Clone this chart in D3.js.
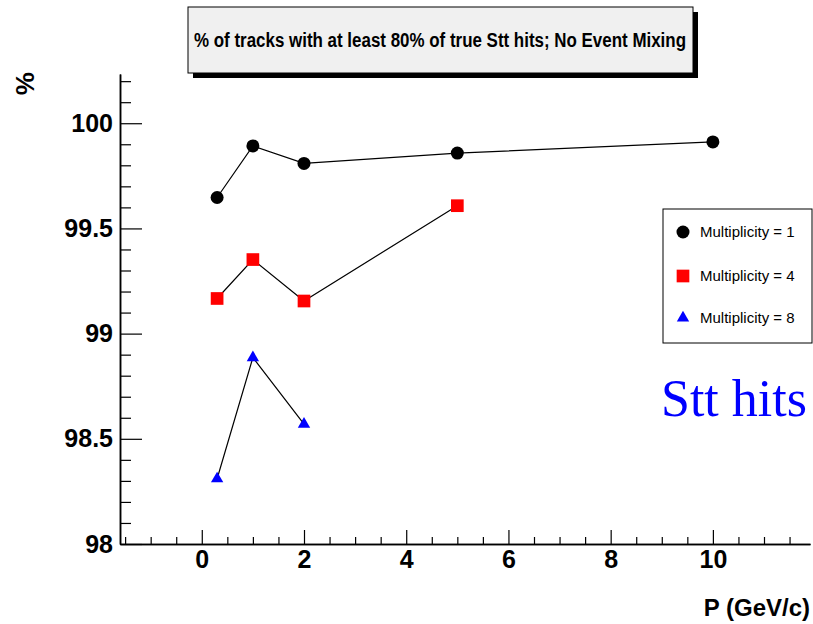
<!DOCTYPE html>
<html>
<head>
    <title>Stt hits efficiency</title>
    <script src="https://cdn.jsdelivr.net/npm/d3@7"></script>
    <style>
        body { margin: 0; background: #fff; }
        .axis text { font-family: Arial, "Liberation Sans", sans-serif; font-weight: bold; font-size: 25px; fill: #000; }
        .axis path, .axis line { stroke: #000; }
        .axis path { stroke-width: 1.5px; }
        .axis line { stroke-width: 1.2px; }
    </style>
</head>
<body>
<script>
    // values
    var momentum = [0.3, 1, 2, 5, 10];
    var mult1 = [99.647, 99.892, 99.809, 99.858, 99.911];
    var mult4 = [99.167, 99.352, 99.155, 99.608];
    var mult8 = [98.31, 98.886, 98.570];
    var seriesNames = ["Multiplicity = 1", "Multiplicity = 4", "Multiplicity = 8"];
    var xMajor = [0, 2, 4, 6, 8, 10];
    var xMinor = [-1.5, -1, -0.5, 0.5, 1, 1.5, 2.5, 3, 3.5, 4.5, 5, 5.5, 6.5, 7, 7.5, 8.5, 9, 9.5, 10.5, 11, 11.5];
    var yMajor = [98, 98.5, 99, 99.5, 100];
    var yMinor = [98.1, 98.2, 98.3, 98.4, 98.6, 98.7, 98.8, 98.9, 99.1, 99.2, 99.3, 99.4, 99.6, 99.7, 99.8, 99.9, 100.1, 100.2];
    var yLabels = ["98", "98.5", "99", "99.5", "100"];

    var w = 813;
    var h = 624;
    var svg = d3.select("body").append("svg")
        .attr("width", w)
        .attr("height", h);

    var x = d3.scaleLinear().domain([-1.6, 11.9]).range([120, 810]);
    var y = d3.scaleLinear().domain([98, 100.234]).range([544, 74]);

    // title box with shadow
    svg.append("rect").attr("x", 193).attr("y", 12).attr("width", 505).attr("height", 66).attr("fill", "#000");
    svg.append("rect").attr("x", 188).attr("y", 7).attr("width", 505).attr("height", 66)
        .attr("fill", "#f0f0f0").attr("stroke", "#000").attr("stroke-width", 1);
    svg.append("text")
        .attr("x", 440).attr("y", 47)
        .attr("text-anchor", "middle")
        .attr("font-family", "Arial, 'Liberation Sans', sans-serif")
        .attr("font-weight", "bold")
        .attr("font-size", "20px")
        .attr("textLength", 492)
        .attr("lengthAdjust", "spacingAndGlyphs")
        .text("% of tracks with at least 80% of true Stt hits; No Event Mixing");

    // axes: minor then major
    svg.append("g").attr("class", "axis").attr("transform", "translate(120,0)")
        .call(d3.axisLeft(y).tickValues(yMinor).tickFormat("").tickSizeInner(-11).tickSizeOuter(0));
    svg.append("g").attr("class", "axis").attr("transform", "translate(120,0)")
        .call(d3.axisLeft(y).tickValues(yMajor).tickFormat(function(d, i) { return yLabels[i]; })
            .tickSizeInner(-22).tickSizeOuter(0).tickPadding(7));
    svg.append("g").attr("class", "axis").attr("transform", "translate(0,544)")
        .call(d3.axisBottom(x).tickValues(xMinor).tickFormat("").tickSizeInner(-7).tickSizeOuter(0));
    svg.append("g").attr("class", "axis").attr("transform", "translate(0,544)")
        .call(d3.axisBottom(x).tickValues(xMajor).tickSizeInner(-14).tickSizeOuter(0).tickPadding(6));

    // axis titles
    svg.append("text")
        .attr("x", 810).attr("y", 616)
        .attr("text-anchor", "end")
        .attr("font-family", "Arial, 'Liberation Sans', sans-serif")
        .attr("font-weight", "bold")
        .attr("font-size", "24px")
        .text("P (GeV/c)");
    svg.append("text")
        .attr("transform", "translate(34,72) rotate(-90)")
        .attr("text-anchor", "end")
        .attr("font-family", "Arial, 'Liberation Sans', sans-serif")
        .attr("font-weight", "bold")
        .attr("font-size", "26px")
        .text("%");

    var series = [
        { vals: mult1, color: "#000", shape: d3.symbolCircle, size: 133 },
        { vals: mult4, color: "#ff0000", shape: d3.symbolSquare, size: 161 },
        { vals: mult8, color: "#0000ff", shape: d3.symbolTriangle, size: 66 }
    ];

    var line = d3.line()
        .x(function(d, i) { return x(momentum[i]); })
        .y(function(d) { return y(d); });

    series.forEach(function(s) {
        svg.append("path")
            .datum(s.vals)
            .attr("d", line)
            .attr("fill", "none")
            .attr("stroke", "#000")
            .attr("stroke-width", 1.2);
        svg.selectAll(null)
            .data(s.vals)
            .enter()
            .append("path")
            .attr("d", d3.symbol().type(s.shape).size(s.size))
            .attr("transform", function(d, i) { return "translate(" + x(momentum[i]) + "," + y(d) + ")"; })
            .attr("fill", s.color);
    });

    // legend
    var legend = svg.append("g");
    legend.append("rect").attr("x", 663).attr("y", 209).attr("width", 149).attr("height", 134)
        .attr("fill", "#fff").attr("stroke", "#000").attr("stroke-width", 1);
    var legendY = [232, 276, 318];
    series.forEach(function(s, i) {
        legend.append("path")
            .attr("d", d3.symbol().type(s.shape).size(s.size))
            .attr("transform", "translate(683," + legendY[i] + ")")
            .attr("fill", s.color);
        legend.append("text")
            .attr("x", 700).attr("y", legendY[i])
            .attr("dy", "0.36em")
            .attr("font-family", "Arial, 'Liberation Sans', sans-serif")
            .attr("font-size", "15px")
            .text(seriesNames[i]);
    });

    svg.append("text")
        .attr("x", 661).attr("y", 416)
        .attr("font-family", "'Liberation Serif', 'Times New Roman', serif")
        .attr("font-size", "52px")
        .attr("fill", "#0000ff")
        .text("Stt hits");
</script>
</body>
</html>
